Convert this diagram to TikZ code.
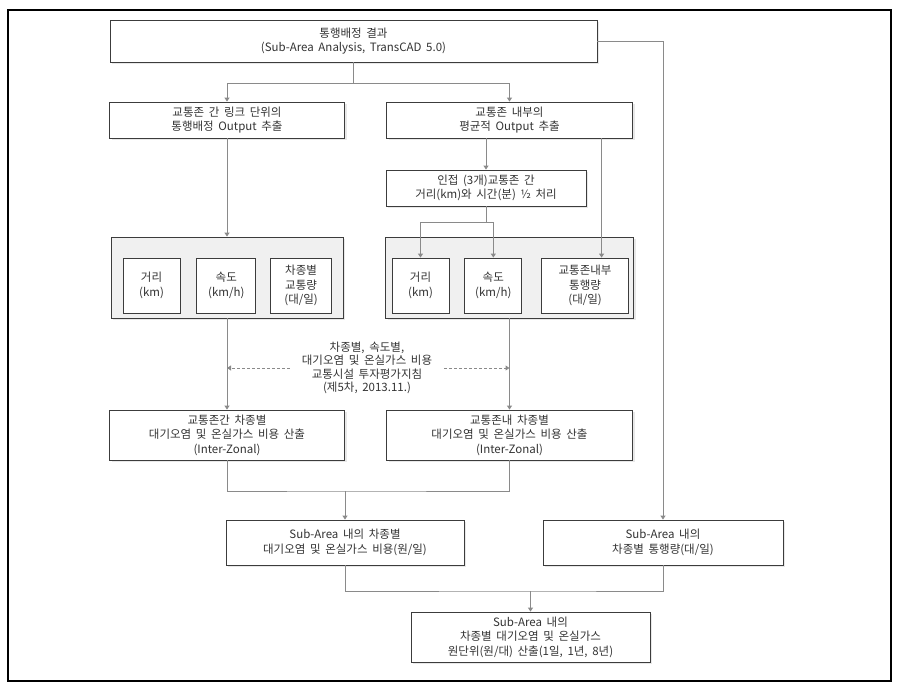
\documentclass[tikz,border=0pt]{standalone}
\usepackage{fontspec}
\setmainfont[WordSpace=1.8]{Noto Sans CJK KR}
\usepackage{tikz}
\usetikzlibrary{arrows.meta,positioning,shadows,calc}
\definecolor{boxline}{HTML}{3C3C3C}
\definecolor{conline}{HTML}{8A8A8A}
\definecolor{txtcol}{HTML}{333333}
\definecolor{panelbg}{HTML}{F0F0F0}
\tikzset{mybox/.style={draw=boxline, line width=0.8pt, fill=white, inner sep=0pt, align=center,
		text=txtcol, font=\fontsize{11.5pt}{14.5pt}\selectfont,
		drop shadow={shadow xshift=2pt, shadow yshift=-2pt, fill=black!18}}}
\tikzset{mypanel/.style={mybox, fill=panelbg}}
\tikzset{myinner/.style={draw=boxline, line width=0.8pt, fill=white, inner sep=0pt, align=center,
		text=txtcol, font=\fontsize{11.5pt}{14.5pt}\selectfont, minimum height=55pt}}
\tikzset{myline/.style={draw=conline, line width=1pt}}
\tikzset{myarrow/.style={myline, -{Triangle[length=4pt,width=5pt]}}}
\tikzset{mydash/.style={myarrow, dashed, dash pattern=on 3pt off 2pt}}

\begin{document}
\begin{tikzpicture}[x=1pt, y=-1pt]
	\useasboundingbox (0,0) rectangle (904,688);
	\draw[line width=1.2pt] (8,10) rectangle (891,681);

	% top row
	\node[mybox, minimum width=487pt, minimum height=42pt] (res) at (353.5,41)
		{통행배정 결과\\(Sub-Area Analysis, TransCAD 5.0)};
	\node[mybox, minimum width=235pt, minimum height=36pt] (lnk) at (227,120)
		{교통존 간 링크 단위의\\통행배정 Output 추출};
	\node[mybox, minimum width=246pt, minimum height=36pt] (avg) at (509.5,120)
		{교통존 내부의\\평균적 Output 추출};
	\node[mybox, minimum width=200pt, minimum height=36pt] (adj) at (486,188)
		{인접 (3개)교통존 간\\거리(km)와 시간(분) ½ 처리};

	% panels
	\node[mypanel, minimum width=232pt, minimum height=81pt] (pl) at (227,277.5) {};
	\node[mypanel, minimum width=248pt, minimum height=81pt] (pr) at (509.5,277.5) {};

	\node[myinner, minimum width=57pt] (dl) at (151.5,285.5) {거리\\(km)};
	\node[myinner, minimum width=59pt, right=16pt of dl] (sl) {속도\\(km/h)};
	\node[myinner, minimum width=61pt, right=14pt of sl] (vl) {차종별\\교통량\\(대/일)};

	\node[myinner, minimum width=57pt] (dr) at (420.5,285.5) {거리\\(km)};
	\node[myinner, minimum width=57pt, right=15pt of dr] (sr) {속도\\(km/h)};
	\node[myinner, minimum width=87pt, right=19pt of sr] (vr) {교통존내부\\통행량\\(대/일)};

	% guide
	\node[align=center, text=txtcol, inner xsep=12pt, font=\fontsize{11.5pt}{13.5pt}\selectfont] (guide) at (367,368)
		{차종별, 속도별,\\대기오염 및 온실가스 비용\\교통시설 투자평가지침\\(제5차, 2013.11.)};

	% cost rows
	\node[mybox, minimum width=235pt, minimum height=50pt] (cl) at (227,435)
		{교통존간 차종별\\대기오염 및 온실가스 비용 산출\\(Inter-Zonal)};
	\node[mybox, minimum width=246pt, minimum height=50pt] (cr) at (509.5,435)
		{교통존내 차종별\\대기오염 및 온실가스 비용 산출\\(Inter-Zonal)};

	\node[mybox, minimum width=238pt, minimum height=45pt] (sumc) at (345,542.5)
		{Sub-Area 내의 차종별\\대기오염 및 온실가스 비용(원/일)};
	\node[mybox, minimum width=240pt, minimum height=45pt] (sumv) at (663,542.5)
		{Sub-Area 내의\\차종별 통행량(대/일)};

	\node[mybox, minimum width=239pt, minimum height=50pt] (fin) at (530.5,637)
		{Sub-Area 내의\\차종별 대기오염 및 온실가스\\원단위(원/대) 산출(1일, 1년, 8년)};

	% connectors
	\coordinate (j1) at (353.5,83);
	\draw[myline] (res.south) -- (j1);
	\draw[myarrow] (j1) -| (lnk.north);
	\draw[myarrow] (j1) -| (avg.north);
	\draw[myarrow] (res.east) -| (sumv.north);

	\draw[myarrow] (adj.north |- avg.south) -- (adj.north);
	\draw[myarrow] ([xshift=16.5pt]vr.north |- avg.south) -- ([xshift=16.5pt]vr.north);

	\coordinate (j2) at (486,222);
	\draw[myline] (adj.south) -- (j2);
	\draw[myarrow] (j2) -| (dr.north);
	\draw[myarrow] (j2) -| (sr.north);

	\draw[myarrow] (lnk.south) -- (pl.north);
	\draw[myarrow] (pl.south) -- (cl.north);
	\draw[myarrow] (pr.south) -- (cr.north);

	\draw[mydash] (guide.west) -- (guide.west -| pl.south);
	\draw[mydash] (guide.east) -- (guide.east -| pr.south);

	\coordinate (j3) at (345,491);
	\draw[myline] (cl.south) |- (j3) -| (cr.south);
	\draw[myarrow] (j3) -- (sumc.north);

	\coordinate (j4) at (530.5,591);
	\draw[myline] (sumc.south) |- (j4) -| (sumv.south);
	\draw[myarrow] (j4) -- (fin.north);
\end{tikzpicture}
\end{document}
